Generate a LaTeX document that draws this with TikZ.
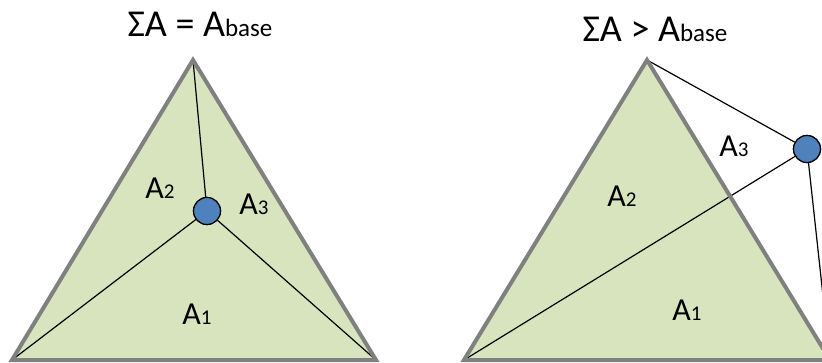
\documentclass[tikz,border=0pt]{standalone}
\usepackage{fontspec}
\setmainfont{Carlito}
\definecolor{trigreen}{HTML}{D7E4BD}
\definecolor{trigray}{HTML}{808080}
\definecolor{ptblue}{HTML}{4F81BD}
\newcommand{\titlesub}[1]{{\fontsize{25}{25}\selectfont #1}}
\newcommand{\labsub}[1]{{\fontsize{21}{21}\selectfont #1}}
\begin{document}
\begin{tikzpicture}[x=1pt,y=-1pt,
  tri/.style={fill=trigreen, draw=trigray, line width=4pt},
  seg/.style={draw=black, line width=1.2pt},
  dot/.style={circle, fill=ptblue, draw=black, line width=1.2pt, minimum size=27pt, inner sep=0pt},
  ttl/.style={anchor=base, inner sep=0pt, font=\fontsize{38}{40}\selectfont},
  lab/.style={anchor=base, inner sep=0pt, font=\fontsize{32}{34}\selectfont}]
\useasboundingbox (0,0) rectangle (822,363);
\clip (0,0) rectangle (822,363);
% left triangle
\coordinate (LA) at (193,60);
\coordinate (LB) at (12,360);
\coordinate (LC) at (376,360);
\fill[trigreen] (LA) -- (LB) -- (LC) -- cycle;
\node[dot] (LP) at (207,211) {};
\draw[seg] (LA) -- (LP);
\draw[seg] (LB) -- (LP);
\draw[seg] (LC) -- (LP);
\draw[tri, fill=none] (LA) -- (LB) -- (LC) -- cycle;
\node[dot] at (LP) {};
% right triangle
\coordinate (RA) at (647,60);
\coordinate (RB) at (464,360);
\coordinate (RC) at (830,360);
\fill[trigreen] (RA) -- (RB) -- (RC) -- cycle;
\node[dot] (RP) at (807,149) {};
\draw[seg] (RA) -- (RP);
\draw[seg] (RB) -- (RP);
\draw[seg] (RC) -- (RP);
\draw[tri, fill=none] (RA) -- (RB) -- (RC) -- cycle;
\node[dot] at (RP) {};
% titles
\node[ttl] (T1) at (200,37) {ΣA = A\titlesub{base}};
\node[ttl] (T2) at (655,42) {ΣA > A\titlesub{base}};
% labels
\node[lab] (L2) at (160,199) {A\labsub{2}};
\node[lab] (L3) at (254,215) {A\labsub{3}};
\node[lab] (L1) at (197,325) {A\labsub{1}};
\node[lab] (R3) at (734,157) {A\labsub{3}};
\node[lab] (R2) at (622,207) {A\labsub{2}};
\node[lab] (R1) at (687,320) {A\labsub{1}};
\end{tikzpicture}
\end{document}
